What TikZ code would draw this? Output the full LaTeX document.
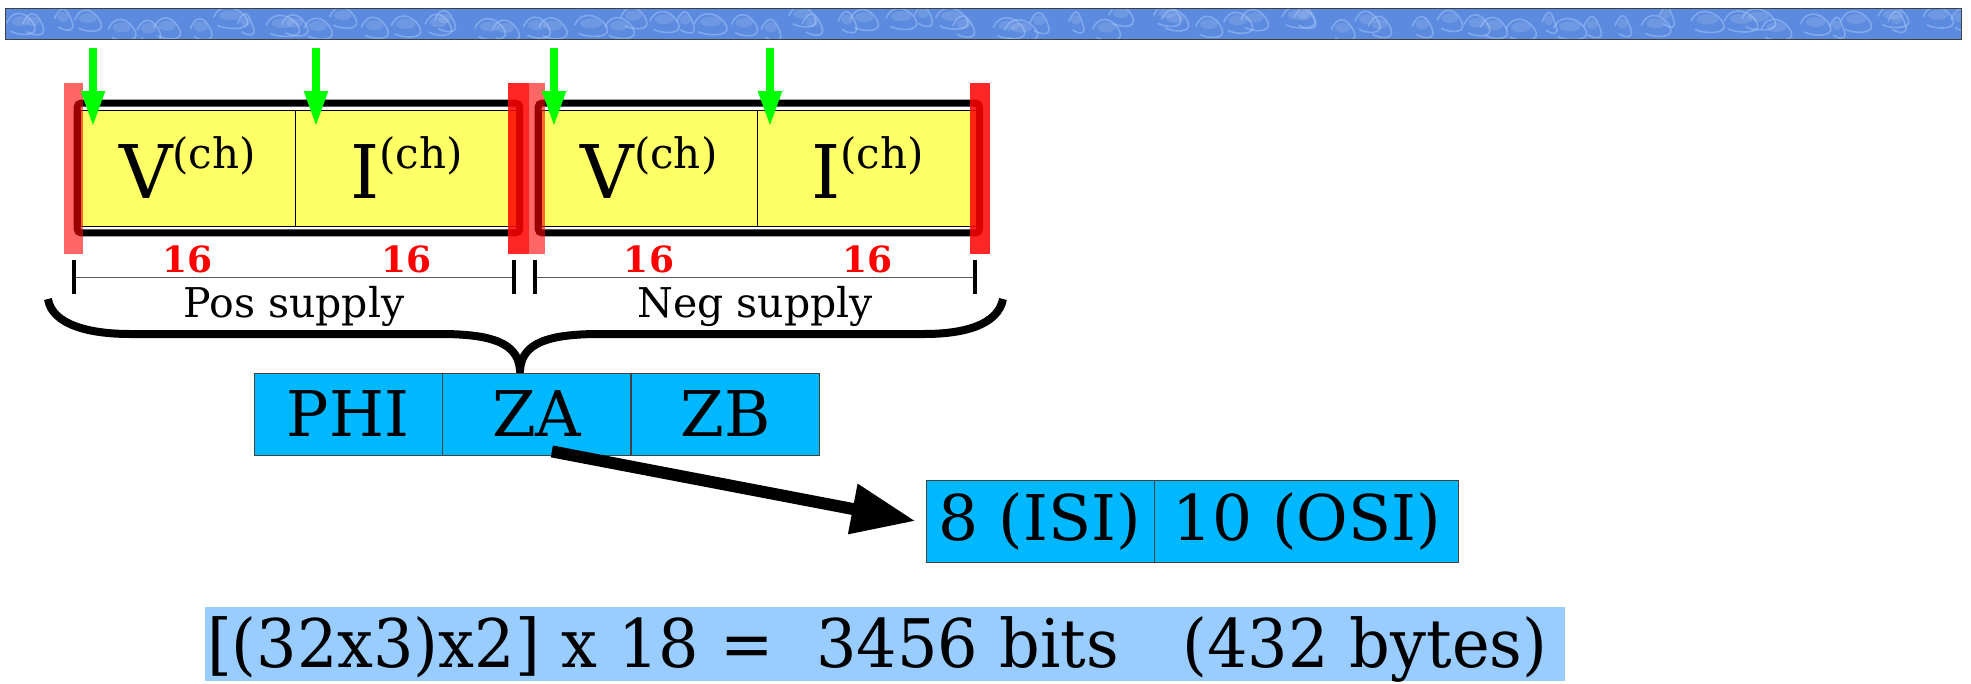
\documentclass[tikz,border=0pt]{standalone}
\usepackage{fontspec}
\usepackage{graphicx}
\setmainfont{DejaVu Serif}
\usetikzlibrary{arrows.meta,positioning,fit}
\definecolor{barblue}{RGB}{92,138,222}
\definecolor{ripple}{RGB}{165,200,252}
\definecolor{cellyellow}{HTML}{FFFF66}
\definecolor{zblue}{HTML}{00B8FF}
\definecolor{sumblue}{HTML}{99CCFF}
\definecolor{feedgreen}{HTML}{00FF00}
\newcommand{\chsup}[1]{#1\raisebox{30pt}{\fontsize{42}{42}\selectfont(ch)}}

\begin{document}
\begin{tikzpicture}[x=1pt, y=-1pt,
  cell/.style={draw, line width=0.8pt, fill=cellyellow, minimum height=116pt, inner sep=0pt,
    font=\fontsize{74}{80}\selectfont},
  frame/.style={draw, line width=7pt, rounded corners=4pt, inner xsep=2.5pt, inner ysep=6.5pt},
  redbar/.style={fill=red, opacity=#1}, redbar/.default={0.6},
  bits/.style={text=red, inner sep=0pt, font=\bfseries\fontsize{36}{40}\selectfont},
  dimline/.style={draw=black!65, line width=1pt,
    {Bar[width=34pt,line width=4pt,color=black]}-{Bar[width=34pt,line width=4pt,color=black]}},
  dimlabel/.style={below=9pt, inner sep=0pt, font=\fontsize{41}{46}\selectfont},
  feed/.style={feedgreen, line width=8pt, -{Triangle[length=36pt,width=22pt]}},
  zbox/.style={draw=black!75, line width=0.8pt, fill=zblue, minimum width=188pt, minimum height=82pt,
    inner sep=0pt, font=\fontsize{63}{70}\selectfont},
  bigarrow/.style={line width=12pt, -{Triangle[length=64pt,width=48pt]}},
  total/.style={fill=sumblue, inner xsep=2pt, inner ysep=0pt, text width=1356pt, align=left,
    text height=60pt, text depth=14pt, font=\fontsize{67}{74}\selectfont}]
\useasboundingbox (0,0) rectangle (1971,683);

\begin{scope}
\clip (5,8) rectangle (1961,39);
\fill[barblue] (5,8) rectangle (1961,39);
\pgfmathsetseed{11}
\foreach \x in {0,26,...,1970} {
  \pgfmathsetmacro{\a}{\x+rand*10}
  \pgfmathsetmacro{\b}{23+rand*8}
  \pgfmathsetmacro{\w}{24+rand*10}
  \draw[ripple, line width=1.6pt, opacity=0.5] (\a,\b) .. controls (\a+8,\b-18) and (\a+\w-4,\b-8) .. (\a+\w,\b+3)
    .. controls (\a+\w+4,\b+14) and (\a+10,\b+12) .. (\a+4,\b+8);
  \fill[white, opacity=0.12] (\a+\w/2,\b-2) ellipse ({\w/3} and 5);
}
\end{scope}
\draw[black!75, line width=1pt] (5,8) rectangle (1961,39);

\node[cell, minimum width=215pt] (v1) at (187.5,168) {\chsup{V}};
\node[cell, minimum width=221pt, right=0pt of v1] (i1) {\chsup{I}};
\node[cell, minimum width=216pt] (v2) at (649,168) {\chsup{V}};
\node[cell, minimum width=219pt, right=0pt of v2] (i2) {\chsup{I}};
\node[frame, fit=(v1)(i1)] (pos) {};
\node[frame, fit=(v2)(i2)] (neg) {};

\fill[redbar] (64,83) rectangle (83,254);
\fill[redbar=0.85] (508,83) rectangle (529,254);
\fill[redbar] (529,83) rectangle (545,254);
\fill[redbar=0.85] (970,83) rectangle (990,254);

\foreach \x [count=\i] in {93,316,554,770} {
  \coordinate (gtop\i) at (\x,48);
  \coordinate (gtip\i) at (\x,127);
  \draw[feed] (gtop\i) -- (gtip\i);
}

\node[bits, below=19pt of v1] (b1) {16};
\node[bits, below=19pt of i1] (b2) {16};
\node[bits, below=19pt of v2] (b3) {16};
\node[bits, below=19pt of i2] (b4) {16};

\coordinate (pl) at (72,277);
\coordinate (pr) at (516,277);
\coordinate (nl) at (533,277);
\coordinate (nr) at (977,277);
\draw[dimline] (pl) -- node[dimlabel] (poslabel) {Pos supply} (pr);
\draw[dimline] (nl) -- node[dimlabel] (neglabel) {Neg supply} (nr);

\draw[line width=8pt] (48,299) .. controls (52,325) and (90,334) .. (130,334) -- (440,334)
  .. controls (492,334) and (518,343) .. (520,370) .. controls (522,343) and (548,334) .. (600,334)
  -- (924,334) .. controls (964,334) and (998,325) .. (1003,299);

\node[zbox] (phi) at (348,414) {PHI};
\node[zbox, right=0pt of phi] (za) {ZA};
\node[zbox, right=0pt of za] (zb) {ZB};

\node[zbox, minimum width=228pt] (isi) at (1040,521) {8 (ISI)};
\node[zbox, minimum width=304pt, right=0pt of isi] (osi) {10 (OSI)};
\draw[bigarrow] ([xshift=15pt,yshift=4pt]za.south) -- ([xshift=-10pt]isi.west);

\node[total] (sum) at (885,644) {\scalebox{0.95}[1]{[(32x3)x2] x 18 =\ \ 3456 bits\ \ \ (432 bytes)}};
\end{tikzpicture}
\end{document}
